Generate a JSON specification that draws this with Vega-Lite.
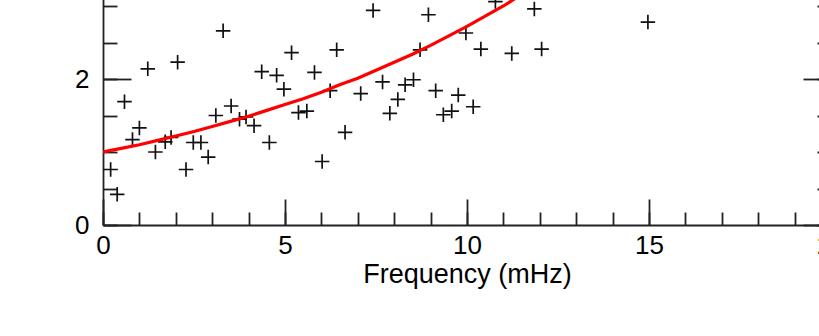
{
  "$schema": "https://vega.github.io/schema/vega-lite/v6.json",
  "autosize": {"type": "none"},
  "width": 728,
  "height": 292,
  "padding": {"left": 103, "top": -67, "right": -12, "bottom": 111},
  "background": "white",
  "config": {
    "view": {"stroke": null},
    "font": "Liberation Sans",
    "axis": {
      "domainColor": "#222222",
      "domainWidth": 1.8,
      "tickColor": "#222222",
      "tickWidth": 1.8,
      "labelColor": "#000000",
      "labelFont": "Liberation Sans",
      "labelFontSize": 26,
      "labelFlush": false,
      "labelOverlap": false,
      "titleFont": "Liberation Sans",
      "titleFontSize": 27,
      "titleFontWeight": "normal",
      "titleColor": "#000000",
      "grid": false
    }
  },
  "datasets": {
    "pts": [
      {"f": 0.21, "p": 0.76}, {"f": 0.39, "p": 0.42}, {"f": 0.59, "p": 1.69}, {"f": 0.81, "p": 1.17},
      {"f": 1.00, "p": 1.33}, {"f": 1.23, "p": 2.14}, {"f": 1.44, "p": 1.00}, {"f": 1.71, "p": 1.14},
      {"f": 1.87, "p": 1.20}, {"f": 2.05, "p": 2.23}, {"f": 2.28, "p": 0.76}, {"f": 2.48, "p": 1.13},
      {"f": 2.69, "p": 1.13}, {"f": 2.89, "p": 0.93}, {"f": 3.10, "p": 1.50}, {"f": 3.30, "p": 2.66},
      {"f": 3.52, "p": 1.63}, {"f": 3.75, "p": 1.45}, {"f": 3.93, "p": 1.48}, {"f": 4.15, "p": 1.36},
      {"f": 4.36, "p": 2.10}, {"f": 4.57, "p": 1.13}, {"f": 4.77, "p": 2.05}, {"f": 4.97, "p": 1.86},
      {"f": 5.18, "p": 2.36}, {"f": 5.37, "p": 1.54}, {"f": 5.60, "p": 1.56}, {"f": 5.81, "p": 2.09},
      {"f": 6.02, "p": 0.87}, {"f": 6.24, "p": 1.84}, {"f": 6.42, "p": 2.40}, {"f": 6.65, "p": 1.27},
      {"f": 7.08, "p": 1.80}, {"f": 7.42, "p": 2.94}, {"f": 7.68, "p": 1.96}, {"f": 7.88, "p": 1.53},
      {"f": 8.10, "p": 1.72}, {"f": 8.30, "p": 1.92}, {"f": 8.53, "p": 1.99}, {"f": 8.71, "p": 2.40},
      {"f": 8.94, "p": 2.88}, {"f": 9.14, "p": 1.84}, {"f": 9.35, "p": 1.51}, {"f": 9.58, "p": 1.56},
      {"f": 9.76, "p": 1.78}, {"f": 9.97, "p": 2.63}, {"f": 10.17, "p": 1.62}, {"f": 10.38, "p": 2.41},
      {"f": 10.78, "p": 3.06}, {"f": 11.23, "p": 2.35}, {"f": 11.85, "p": 2.96}, {"f": 12.05, "p": 2.41},
      {"f": 14.1, "p": 3.18}, {"f": 14.97, "p": 2.78}
    ],
    "fit": [
      {"f": 0, "p": 1.00}, {"f": 0.5, "p": 1.05}, {"f": 1, "p": 1.10}, {"f": 1.5, "p": 1.16},
      {"f": 2, "p": 1.22}, {"f": 2.5, "p": 1.28}, {"f": 3, "p": 1.35}, {"f": 3.5, "p": 1.42},
      {"f": 4, "p": 1.49}, {"f": 4.5, "p": 1.57}, {"f": 5, "p": 1.65}, {"f": 5.5, "p": 1.73},
      {"f": 6, "p": 1.82}, {"f": 6.5, "p": 1.92}, {"f": 7, "p": 2.01}, {"f": 7.5, "p": 2.12},
      {"f": 8, "p": 2.23}, {"f": 8.5, "p": 2.34}, {"f": 9, "p": 2.46}, {"f": 9.5, "p": 2.59},
      {"f": 10, "p": 2.72}, {"f": 10.5, "p": 2.86}, {"f": 11, "p": 3.00}, {"f": 11.5, "p": 3.16},
      {"f": 12, "p": 3.32}
    ]
  },
  "resolve": {"axis": {"x": "independent", "y": "independent"}},
  "layer": [
    {
      "data": {"name": "fit"},
      "mark": {"type": "line", "color": "#ff0000", "strokeWidth": 3.2, "clip": true, "opacity": 0},
      "encoding": {
        "x": {"field": "f", "type": "quantitative", "scale": {"domain": [0, 20], "nice": false},
              "axis": {"orient": "bottom", "values": [0,1,2,3,4,5,6,7,8,9,10,11,12,13,14,15,16,17,18,19,20],
                       "tickSize": -13, "labels": false, "domain": false, "title": null}},
        "y": {"field": "p", "type": "quantitative", "scale": {"domain": [0, 4], "nice": false},
              "axis": {"orient": "right", "values": [0,0.5,1,1.5,2,2.5,3,3.5,4],
                       "tickSize": -14, "labels": false, "domain": true, "title": null}}
      }
    },
    {
      "data": {"name": "fit"},
      "mark": {"type": "line", "color": "#ff0000", "strokeWidth": 3.2, "clip": true, "opacity": 0},
      "encoding": {
        "x": {"field": "f", "type": "quantitative",
              "axis": {"orient": "bottom", "values": [0,5,10,15,20], "tickSize": -26,
                       "labelPadding": 33, "title": "Frequency (mHz)", "titlePadding": 3}},
        "y": {"field": "p", "type": "quantitative",
              "axis": {"orient": "right", "values": [0,2,4], "tickSize": -28, "labels": false, "domain": false, "title": null}}
      }
    },
    {
      "data": {"name": "pts"},
      "mark": {"type": "point", "shape": "M-1,0L1,0M0,-1L0,1", "size": 210, "filled": false,
               "stroke": "#111111", "strokeWidth": 1.7, "opacity": 1, "clip": true},
      "encoding": {
        "x": {"field": "f", "type": "quantitative", "axis": null},
        "y": {"field": "p", "type": "quantitative",
              "axis": {"orient": "left", "values": [0,0.5,1,1.5,2,2.5,3,3.5,4],
                       "tickSize": -14, "labels": false, "domain": true, "title": null}}
      }
    },
    {
      "data": {"name": "fit"},
      "mark": {"type": "line", "color": "#ff0000", "strokeWidth": 3.2, "clip": true},
      "encoding": {
        "x": {"field": "f", "type": "quantitative", "axis": null},
        "y": {"field": "p", "type": "quantitative",
              "axis": {"orient": "left", "values": [0,2,4], "tickSize": -28, "labelPadding": 42,
                       "domain": false, "title": null}}
      }
    }
  ]
}
